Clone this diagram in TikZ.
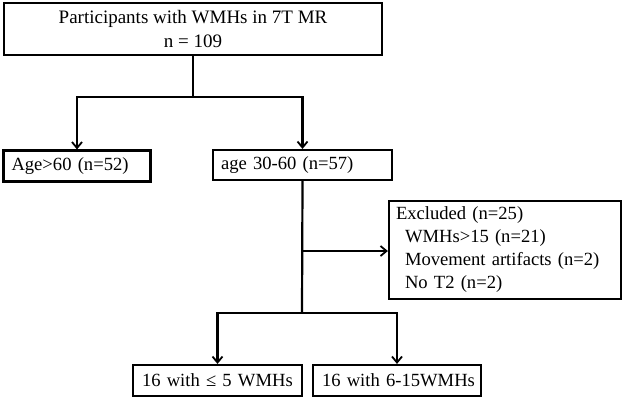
\documentclass[tikz,border=0pt]{standalone}
\usepackage{fontspec}
\setmainfont{Liberation Serif}
\usetikzlibrary{arrows.meta}
\begin{document}
\begin{tikzpicture}[x=1pt,y=-1pt,
  box/.style={draw,line width=2.2pt,rectangle,inner sep=0pt,font=\fontsize{18.6}{23}\selectfont},
  conn/.style={line width=2.2pt},
  arr/.style={conn,-{Straight Barb[length=6pt,width=10pt,line width=1.8pt]}}]
\useasboundingbox (0,0) rectangle (623,400);
\node[box,minimum width=378pt,minimum height=52pt,align=center,font=\fontsize{19}{24}\selectfont] (top) at (193,29)
  {Participants with WMHs in 7T MR\\n = 109};
\node[box,minimum width=147pt,minimum height=31pt,text width=131pt,align=left] (old) at (77,166) {\mbox{Age>60 (n=52)}};
\node[box,minimum width=179pt,minimum height=30pt,text width=163pt,align=left] (mid) at (302.5,165) {\mbox{age 30-60 (n=57)}};
\node[box,minimum width=232pt,minimum height=98pt,text width=218pt,align=left] (excl) at (505,250)
  {Excluded (n=25)\\\hspace*{9pt}WMHs>15 (n=21)\\\hspace*{9pt}Movement artifacts (n=2)\\\hspace*{9pt}No T2 (n=2)};
\node[box,minimum width=169pt,minimum height=31pt,text width=151pt,align=left] (low) at (217.5,380.5) {\mbox{16 with ≤ 5 WMHs}};
\node[box,minimum width=168pt,minimum height=31pt,text width=150pt,align=left] (high) at (397,380.5) {\mbox{16 with 6-15WMHs}};
\coordinate (j1) at (193,97);
\coordinate (j2) at (302,313);
\coordinate (jx) at (302,251);
\draw[conn] (top.south) -- (j1);
\draw[arr] (j1) -| (old.north);
\draw[arr] (j1) -| (mid.north);
\draw[conn] (mid.south) -- (j2);
\draw[arr] (jx) -- (jx -| excl.west);
\draw[arr] (j2) -| (low.north);
\draw[arr] (j2) -| (high.north);
\end{tikzpicture}
\end{document}
